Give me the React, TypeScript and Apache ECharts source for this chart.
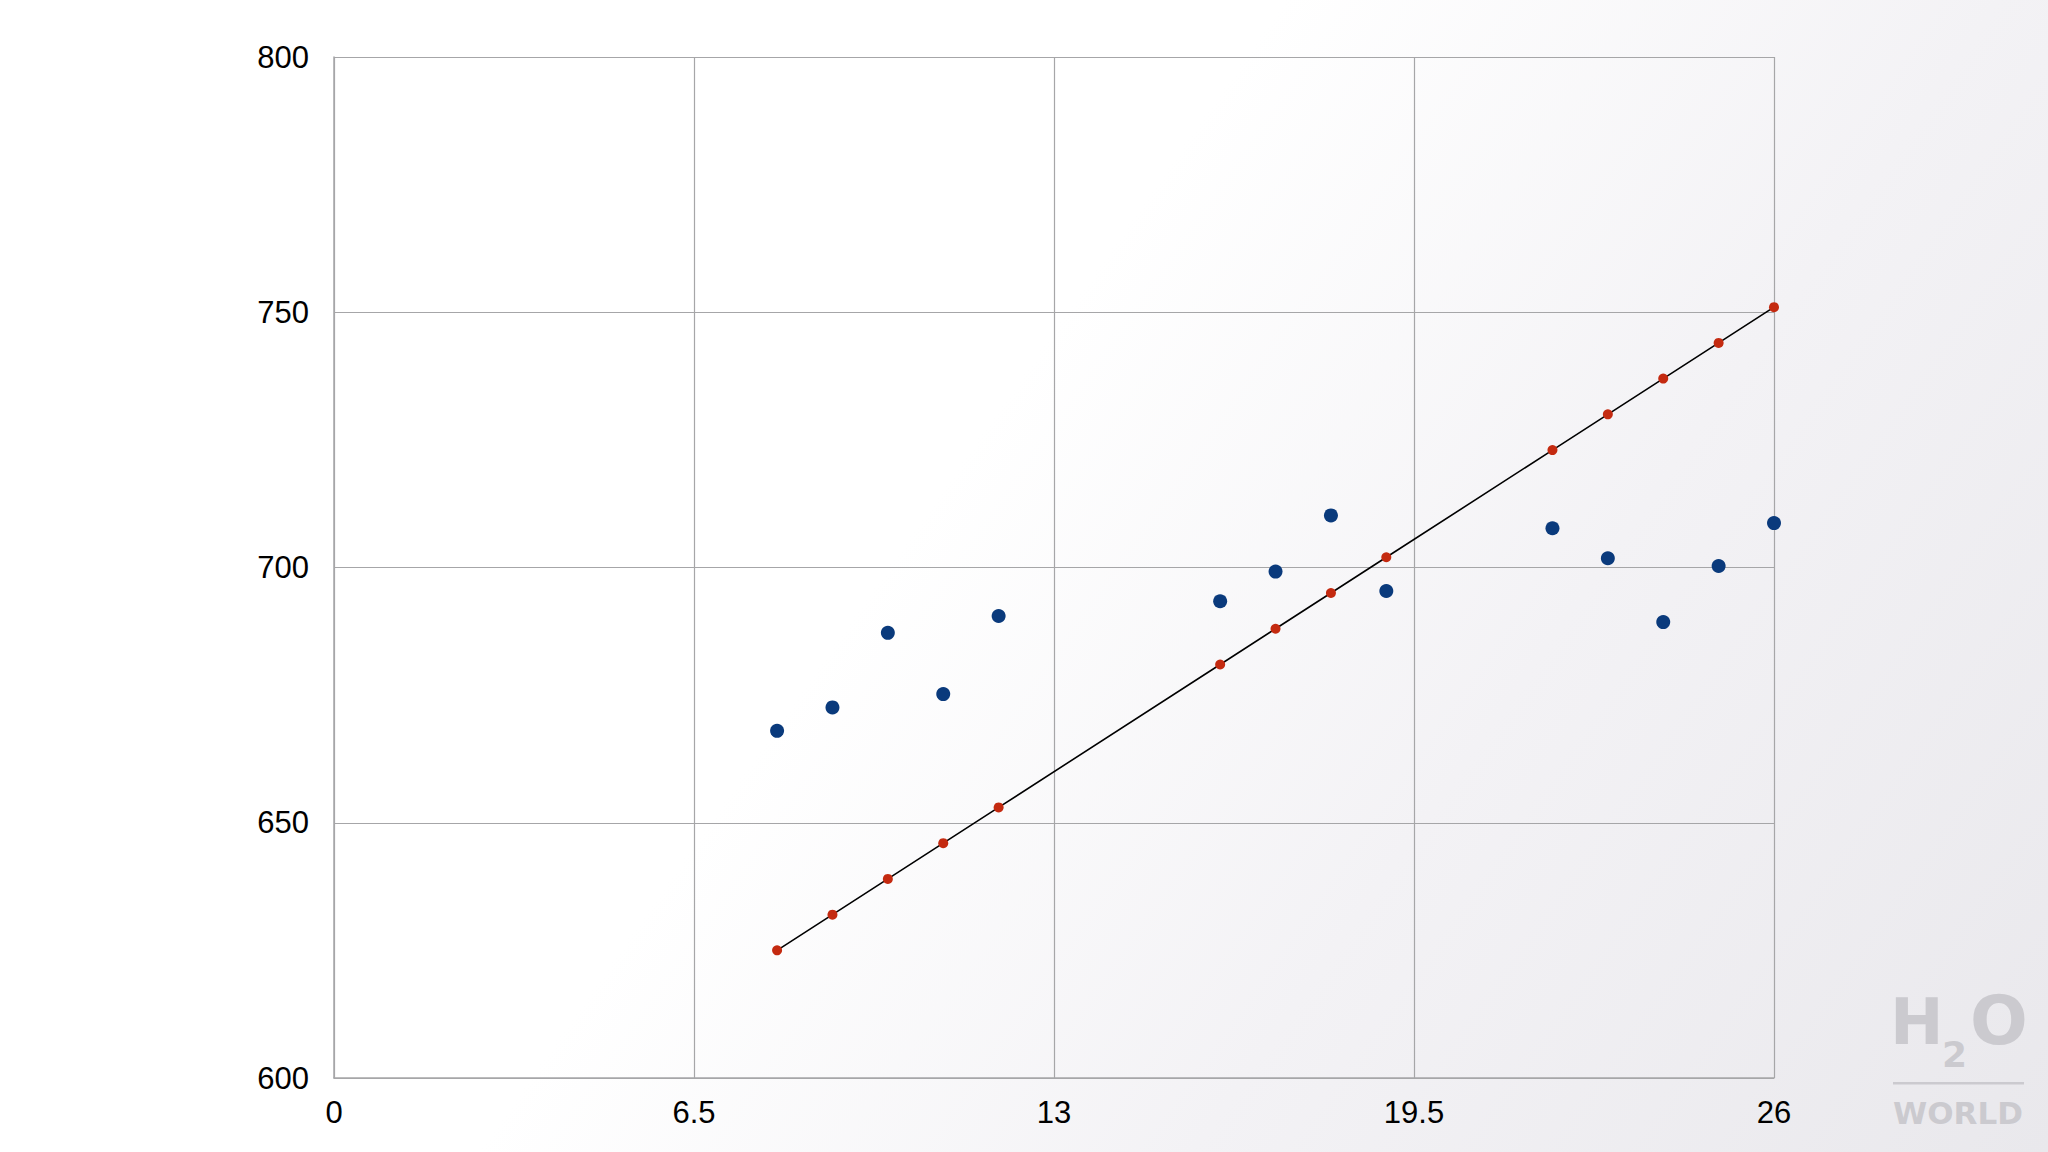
import React, { useEffect, useRef } from "react";
import * as echarts from "echarts";

const xValues = [8, 9, 10, 11, 12, 16, 17, 18, 19, 22, 23, 24, 25, 26];
const observed = [668, 672.6, 687.2, 675.2, 690.5, 693.4, 699.2, 710.2, 695.4, 707.7, 701.8, 689.3, 700.3, 708.7];
const fitted = [625, 632, 639, 646, 653, 681, 688, 695, 702, 723, 730, 737, 744, 751];
const xTicks = [0, 6.5, 13, 19.5, 26];
const yTicks = [600, 650, 700, 750, 800];

export default function App() {
  const ref = useRef<HTMLDivElement>(null);
  useEffect(() => {
    if (!ref.current) return;
    const chart = echarts.init(ref.current, null, { renderer: "svg" });
    const font = "'Liberation Sans', Arial, Helvetica, sans-serif";
    const wmFont = "'DejaVu Sans', sans-serif";
    const wmColor = "#cbcacf";
    chart.setOption({
      animation: false,
      backgroundColor: "transparent",
      grid: { left: 334, right: 274, top: 57, bottom: 74, containLabel: false },
      xAxis: {
        type: "value",
        min: xTicks[0],
        max: xTicks[xTicks.length - 1],
        interval: 6.5,
        axisLine: { show: true, lineStyle: { color: "#a6a6a8", width: 1.5 } },
        axisTick: { show: false },
        splitLine: { show: true, lineStyle: { color: "#a6a6a8", width: 1.2 } },
        axisLabel: {
          color: "#000",
          fontSize: 31,
          fontFamily: font,
          margin: 19,
          formatter: (v: number) => String(v),
        },
      },
      yAxis: {
        type: "value",
        min: yTicks[0],
        max: yTicks[yTicks.length - 1],
        interval: 50,
        axisLine: { show: true, lineStyle: { color: "#a6a6a8", width: 1.5 } },
        axisTick: { show: false },
        splitLine: { show: true, lineStyle: { color: "#a6a6a8", width: 1.2 } },
        axisLabel: { color: "#000", fontSize: 31, fontFamily: font, margin: 25 },
      },
      series: [
        {
          type: "line",
          data: xValues.map((x, i) => [x, fitted[i]]),
          lineStyle: { color: "#000", width: 1.6 },
          symbol: "circle",
          symbolSize: 10,
          itemStyle: { color: "#c42a10", opacity: 1 },
          z: 3,
        },
        {
          type: "scatter",
          data: xValues.map((x, i) => [x, observed[i]]),
          symbol: "circle",
          symbolSize: 14,
          itemStyle: { color: "#0a3a7c", opacity: 1 },
          z: 4,
        },
      ],
      graphic: [
        {
          type: "text",
          left: 1890,
          top: 990,
          style: { text: "H", fontSize: 64, fontWeight: "bold", fontFamily: wmFont, fill: wmColor },
        },
        {
          type: "text",
          left: 1942,
          top: 1036,
          style: { text: "2", fontSize: 36, fontWeight: "bold", fontFamily: wmFont, fill: wmColor },
        },
        {
          type: "text",
          left: 1970,
          top: 986,
          style: { text: "O", fontSize: 68, fontWeight: "bold", fontFamily: wmFont, fill: wmColor },
        },
        {
          type: "rect",
          shape: { x: 1893, y: 1082, width: 131, height: 2.5 },
          style: { fill: wmColor },
        },
        {
          type: "text",
          left: 1893,
          top: 1097,
          style: { text: "WORLD", fontSize: 31, fontWeight: "bold", fontFamily: wmFont, fill: wmColor },
        },
      ],
    });
    return () => chart.dispose();
  }, []);
  return (
    <div
      style={{
        position: "fixed",
        left: 0,
        top: 0,
        width: 2048,
        height: 1152,
        background: "linear-gradient(125deg, #ffffff 0%, #ffffff 45%, #f3f2f5 70%, #e9e8ec 100%)",
      }}
    >
      <div ref={ref} style={{ width: 2048, height: 1152 }} />
    </div>
  );
}
